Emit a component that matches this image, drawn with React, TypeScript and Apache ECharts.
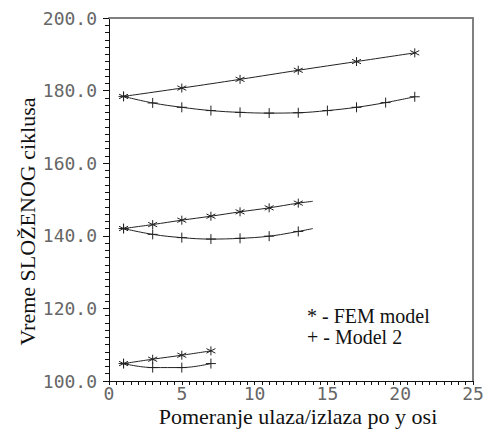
import React, { useEffect, useRef } from "react";
import * as echarts from "echarts";

// X positions of markers
const femX1 = [1, 5, 9, 13, 17, 21];
const femY1 = [178.4, 180.7, 183.1, 185.6, 188.0, 190.4];
const m2X1 = [1, 3, 5, 7, 9, 11, 13, 15, 17, 19, 21];
const m2Y1 = [178.4, 176.6, 175.4, 174.5, 174.0, 173.8, 173.9, 174.5, 175.4, 176.7, 178.3];

const femX2 = [1, 3, 5, 7, 9, 11, 13];
const femY2 = [142.0, 143.1, 144.3, 145.4, 146.6, 147.7, 149.0];
const m2X2 = [1, 3, 5, 7, 9, 11, 13];
const m2Y2 = [142.0, 140.4, 139.5, 139.1, 139.3, 139.9, 141.2];
// the fitted curves of group 2 run on to x = 14
const curveEndX2 = 14;
const femEndY2 = 149.5;
const m2EndY2 = 142.0;

const femX3 = [1, 3, 5, 7];
const femY3 = [104.8, 106.0, 107.1, 108.3];
const m2X3 = [1, 3, 5, 7];
const m2Y3 = [104.8, 103.7, 103.7, 104.8];

const xTicks = [0, 5, 10, 15, 20, 25];
const yTicks = [100, 120, 140, 160, 180, 200];

const legendLines = ["* - FEM model", "+ - Model 2"];
const xTitle = "Pomeranje ulaza/izlaza po y osi";
const yTitle = "Vreme SLOŽENOG ciklusa";

const STAR = "path://M5,0L5,10M0.67,2.5L9.33,7.5M0.67,7.5L9.33,2.5";
const PLUS = "path://M5,0L5,10M0,5L10,5";

const SERIF = "'Liberation Serif', 'Times New Roman', 'DejaVu Serif', serif";
const MONO = "'DejaVu Sans Mono', 'Liberation Mono', monospace";

function pairs(xs: number[], ys: number[]) {
  return xs.map((x, i) => [x, ys[i]]);
}

function withEnd(xs: number[], ys: number[], ex?: number, ey?: number) {
  const d: any[] = pairs(xs, ys);
  if (ex !== undefined && ey !== undefined) {
    d.push({ value: [ex, ey], symbol: "none" });
  }
  return d;
}

export default function App() {
  const ref = useRef<HTMLDivElement>(null);
  useEffect(() => {
    if (!ref.current) return;
    const chart = echarts.init(ref.current, undefined, { renderer: "svg" });
    const lineColor = "#222";
    const mk = (name: string, symbol: string, data: any[]) => ({
      name,
      type: "line",
      xAxisIndex: 0,
      yAxisIndex: 0,
      data,
      smooth: 0.4,
      symbol,
      symbolSize: symbol === STAR ? 9 : 10,
      showSymbol: true,
      lineStyle: { color: lineColor, width: 1 },
      itemStyle: { color: "transparent", borderColor: lineColor, borderWidth: 1 },
      emphasis: { disabled: true },
    });
    const monoLabel = {
      fontFamily: MONO,
      fontSize: 18,
      color: "#666",
    };
    const serifText = (text: string, x: number, y: number, size: number, align: string, rotation = 0) => ({
      type: "text",
      x,
      y,
      rotation,
      style: {
        text,
        fontFamily: SERIF,
        fontSize: size,
        fill: "#111",
        textAlign: align,
        textVerticalAlign: "middle",
      },
    });
    chart.setOption({
      animation: false,
      backgroundColor: "#fff",
      grid: { left: 109, right: 15, top: 18, bottom: 62, containLabel: false },
      xAxis: [
        {
          type: "value",
          min: 0,
          max: 25,
          interval: 5,
          position: "bottom",
          axisLine: { show: true, onZero: false, lineStyle: { color: "#111", width: 1 } },
          axisTick: { show: true, inside: false, length: 4, lineStyle: { color: "#111" } },
          minorTick: { show: true, splitNumber: 10, length: 4, lineStyle: { color: "#111" } },
          splitLine: { show: false },
          axisLabel: {
            ...monoLabel,
            margin: 3,
            formatter: (v: number) => (xTicks.includes(v) ? String(v) : ""),
          },
        },
        {
          type: "value",
          min: 0,
          max: 25,
          position: "top",
          axisLine: { show: true, onZero: false, lineStyle: { color: "#808080", width: 2 } },
          axisTick: { show: false },
          axisLabel: { show: false },
          splitLine: { show: false },
        },
      ],
      yAxis: [
        {
          type: "value",
          min: 100,
          max: 200,
          interval: 20,
          position: "left",
          axisLine: { show: true, onZero: false, lineStyle: { color: "#111", width: 1 } },
          axisTick: { show: true, inside: false, length: 6, lineStyle: { color: "#111" } },
          minorTick: { show: true, splitNumber: 10, length: 4, lineStyle: { color: "#111" } },
          splitLine: { show: false },
          axisLabel: {
            ...monoLabel,
            margin: 12,
            formatter: (v: number) => (yTicks.includes(v) ? v.toFixed(1) : ""),
          },
        },
        {
          type: "value",
          min: 100,
          max: 200,
          position: "right",
          axisLine: { show: true, onZero: false, lineStyle: { color: "#808080", width: 2 } },
          axisTick: { show: false },
          axisLabel: { show: false },
          splitLine: { show: false },
        },
      ],
      series: [
        mk("FEM model", STAR, withEnd(femX1, femY1)),
        mk("Model 2", PLUS, withEnd(m2X1, m2Y1)),
        mk("FEM model", STAR, withEnd(femX2, femY2, curveEndX2, femEndY2)),
        mk("Model 2", PLUS, withEnd(m2X2, m2Y2, curveEndX2, m2EndY2)),
        mk("FEM model", STAR, withEnd(femX3, femY3)),
        mk("Model 2", PLUS, withEnd(m2X3, m2Y3)),
      ],
      graphic: [
        serifText(legendLines[0], 307, 316, 20, "left"),
        serifText(legendLines[1], 307, 337, 20, "left"),
        serifText(xTitle, 298, 416.5, 22, "center"),
        serifText(yTitle, 27, 221.5, 22, "center", Math.PI / 2),
      ],
    });
    return () => chart.dispose();
  }, []);
  return (
    <div
      ref={ref}
      style={{ position: "fixed", left: 0, top: 0, width: 488, height: 443, background: "#fff" }}
    />
  );
}
